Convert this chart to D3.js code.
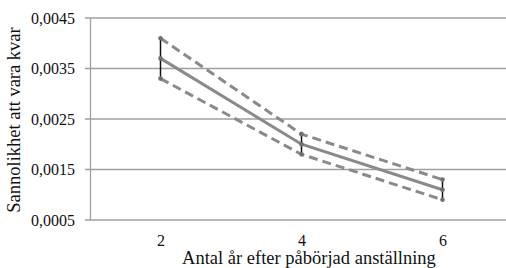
<!DOCTYPE html>
<html>
<head>
<meta charset="utf-8">
<script src="https://cdn.jsdelivr.net/npm/d3@7"></script>
<style>
  body { margin: 0; background: #fff; }
  svg, svg text { font-family: "Liberation Serif", "Times New Roman", serif !important; }
</style>
</head>
<body>
<div id="chart"></div>
<script>
// data
const years = ["2", "4", "6"];
const mean = [0.0037, 0.0020, 0.0011];
const upper = [0.0041, 0.0022, 0.0013];
const lower = [0.0033, 0.0018, 0.0009];
const yTicks = [0.0005, 0.0015, 0.0025, 0.0035, 0.0045];

const width = 506, height = 268,
  margin = { top: 18, right: -7, bottom: 48, left: 90 },
  serifFont = "'Liberation Serif', 'Times New Roman', serif";

const svg = d3.select("#chart").append("svg")
  .attr("width", width).attr("height", height)
  .style("font-family", serifFont);

const x = d3.scalePoint().domain(years)
  .range([margin.left, width - margin.right]).padding(0.5);
const y = d3.scaleLinear().domain([0.0005, 0.0045])
  .range([height - margin.bottom, margin.top]);

const fmt = d => d3.format(".4f")(d).replace(".", ",");

// gridlines
svg.append("g")
  .selectAll("line").data(yTicks).enter().append("line")
  .attr("x1", margin.left - 5).attr("x2", width)
  .attr("y1", d => y(d)).attr("y2", d => y(d))
  .attr("stroke", "#a0a0a0").attr("stroke-width", 1.3);

// y axis
const yAxis = svg.append("g")
  .attr("transform", `translate(${margin.left},0)`)
  .call(d3.axisLeft(y).tickValues(yTicks).tickFormat(fmt).tickSize(5).tickSizeOuter(0))
  .attr("font-family", null);
yAxis.select(".domain").attr("stroke", "#a0a0a0").attr("stroke-width", 1.3);
yAxis.selectAll(".tick line").remove();
yAxis.selectAll(".tick text").attr("x", -15).attr("font-size", 16)
  .style("font-family", serifFont).attr("fill", "#111");

// x axis labels
const xAxis = svg.append("g")
  .attr("transform", `translate(0,${height - margin.bottom})`)
  .call(d3.axisBottom(x).tickSize(0))
  .attr("font-family", null);
xAxis.select(".domain").remove();
xAxis.selectAll(".tick text").attr("dy", null).attr("y", 26).attr("font-size", 16)
  .style("font-family", serifFont).attr("fill", "#111");

// axis titles
svg.append("text")
  .attr("x", 309).attr("y", 264)
  .attr("text-anchor", "middle").attr("font-size", 18.5)
  .style("font-family", serifFont).attr("fill", "#111")
  .text("Antal år efter påbörjad anställning");
svg.append("text")
  .attr("transform", `translate(20,${(margin.top + height - margin.bottom) / 2 + 1}) rotate(-90)`)
  .attr("text-anchor", "middle").attr("font-size", 18.5)
  .style("font-family", serifFont).attr("fill", "#111")
  .text("Sannolikhet att vara kvar");

const line = d3.line().x((d, i) => x(years[i])).y(d => y(d));

[upper, lower].forEach(s => {
  svg.append("path").datum(s)
    .attr("d", line).attr("fill", "none")
    .attr("stroke", "#8a8a8a").attr("stroke-width", 3)
    .attr("stroke-dasharray", "9,5");
});
svg.append("path").datum(mean)
  .attr("d", line).attr("fill", "none")
  .attr("stroke", "#8a8a8a").attr("stroke-width", 3);

// error bars
svg.append("g").selectAll("line").data(years).enter().append("line")
  .attr("x1", d => x(d)).attr("x2", d => x(d))
  .attr("y1", (d, i) => y(upper[i])).attr("y2", (d, i) => y(lower[i]))
  .attr("stroke", "#111").attr("stroke-width", 1.5);

// end markers
[upper, mean, lower].forEach(s => {
  svg.append("g").selectAll("circle").data(s).enter().append("circle")
    .attr("cx", (d, i) => x(years[i])).attr("cy", d => y(d))
    .attr("r", 2.3).attr("fill", "#707070");
});
</script>
</body>
</html>
